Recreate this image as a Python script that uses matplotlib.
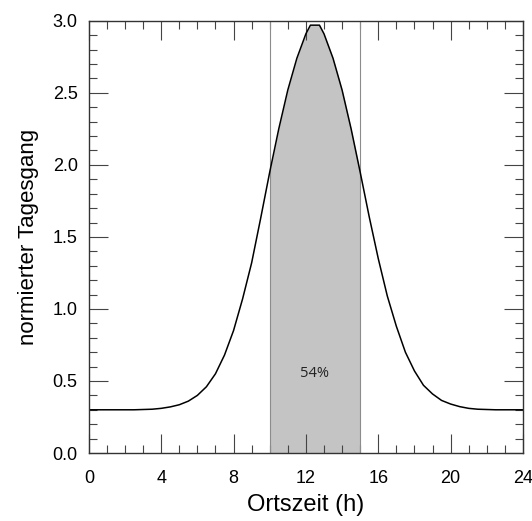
import numpy as np
import matplotlib.pyplot as plt
from matplotlib.ticker import MultipleLocator

# local time (h) and normalised diurnal cycle
hours = [0, 0.5, 1, 1.5, 2, 2.5, 3, 3.5, 4, 4.5, 5, 5.5, 6, 6.5, 7, 7.5, 8, 8.5,
         9, 9.5, 10, 10.5, 11, 11.5, 12, 12.25, 12.75, 13, 13.5, 14, 14.5, 15,
         15.5, 16, 16.5, 17, 17.5, 18, 18.5, 19, 19.5, 20, 20.5, 21, 21.5, 22,
         22.5, 23, 23.5, 24]
cycle = [0.30, 0.30, 0.30, 0.30, 0.30, 0.30, 0.302, 0.304, 0.31, 0.32, 0.335,
         0.36, 0.40, 0.46, 0.55, 0.68, 0.85, 1.07, 1.32, 1.63, 1.95, 2.25,
         2.52, 2.74, 2.91, 2.97, 2.97, 2.91, 2.74, 2.52, 2.25, 1.95, 1.64,
         1.35, 1.09, 0.88, 0.70, 0.57, 0.47, 0.41, 0.365, 0.34, 0.322, 0.31,
         0.304, 0.302, 0.30, 0.30, 0.30, 0.30]
window = (10, 15)
window_label = "54%"

x = np.array(hours)
y = np.array(cycle)

plt.rcParams['font.family'] = ['Liberation Sans', 'DejaVu Sans']

fig = plt.figure(figsize=(5.32, 5.21), dpi=100)
ax = fig.add_axes([0.167, 0.1305, 0.816, 0.8295])

mask = (x >= window[0]) & (x <= window[1])
ax.fill_between(x[mask], 0, y[mask], color="#c4c4c4", linewidth=0)
for xv in window:
    ax.axvline(xv, color="#8c8c8c", linewidth=0.8)
ax.plot(x, y, color="black", linewidth=1.1)

ax.text(np.mean(window) - 0.05, 0.55, window_label, ha="center", va="center",
        fontsize=10.5, family=['Open Sans', 'DejaVu Sans'], color="#222222")

ax.set_xlim(0, 24)
ax.set_ylim(0, 3)
ax.xaxis.set_major_locator(MultipleLocator(4))
ax.xaxis.set_minor_locator(MultipleLocator(1))
ax.yaxis.set_major_locator(MultipleLocator(0.5))
ax.yaxis.set_minor_locator(MultipleLocator(0.1))
ax.yaxis.set_major_formatter(plt.FormatStrFormatter("%.1f"))
ax.tick_params(which="both", direction="in", top=True, right=True,
               color="#444444", width=0.8, labelsize=13)
ax.tick_params(which="major", length=14)
ax.tick_params(which="minor", length=6)
ax.tick_params(axis="x", which="major", pad=12)
ax.tick_params(axis="y", which="major", pad=8)
for s in ax.spines.values():
    s.set_color("#333333")
    s.set_linewidth(1.0)

ax.set_xlabel("Ortszeit (h)", fontsize=17, labelpad=5)
ax.set_ylabel("normierter Tagesgang", fontsize=16, labelpad=10)

fig.savefig("out.png", dpi=100)
